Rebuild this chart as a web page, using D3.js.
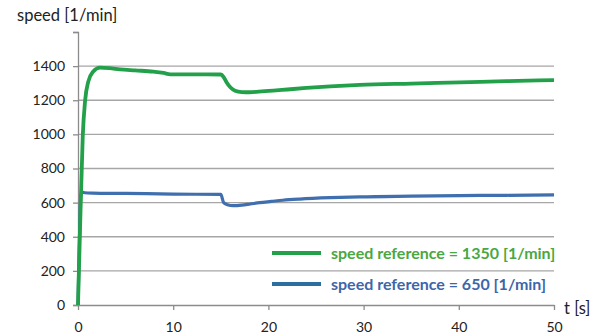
<!DOCTYPE html>
<html>
<head>
<meta charset="utf-8">
<script src="https://cdn.jsdelivr.net/npm/d3@7"></script>
<style>
  html, body { margin: 0; padding: 0; background: #fff; }
  svg { display: block; }
  text { font-family: Lato, "Open Sans", sans-serif; }
</style>
</head>
<body>
<svg id="chart" width="607" height="336"></svg>
<script>
// Time axis [s]
const timeTicks = [0, 10, 20, 30, 40, 50];
// Speed axis [1/min]
const speedTicks = [0, 200, 400, 600, 800, 1000, 1200, 1400];
const speedMax = 1600;

// Response to reference 1350 [1/min]
const t1350 = [0, 0.25, 0.5, 0.75, 1.08, 1.6, 2.3, 3.3, 4.4, 6.0, 7.9, 9.0, 9.7, 11.4, 13.5, 15.0, 15.3, 15.6, 16.0, 16.5, 17.2, 18.0, 19.0, 20.5, 22.0, 24.0, 26.5, 29.6, 35.0, 40.1, 45.0, 50.0];
const v1350 = [0, 520, 990, 1200, 1309, 1368, 1391, 1388, 1381, 1375, 1368, 1360, 1352, 1352, 1352, 1351, 1336, 1306, 1276, 1256, 1248, 1247, 1250, 1256, 1263, 1272, 1281, 1290, 1298, 1305, 1312, 1318];

// Response to reference 650 [1/min]
const t650 = [0, 0.1, 0.2, 0.3, 0.45, 0.7, 1.5, 5.0, 10.0, 15.0, 15.3, 15.7, 16.3, 17.2, 18.1, 19.1, 20.3, 21.5, 23.3, 26.5, 29.6, 35.0, 40.1, 45.0, 50.0];
const v650 = [0, 260, 500, 640, 662, 658, 656, 654, 650, 648, 600, 588, 582, 585, 592, 600, 607, 614, 621, 629, 634, 638, 641, 643, 645];

const seriesNames = ["speed reference = 1350 [1/min]", "speed reference = 650 [1/min]"];
const seriesColors = ["#23a04a", "#3f6fae"];
const legendLineColors = ["#23a04a", "#2a6fa0"];
const legendTextColors = ["#4aa742", "#3d66aa"];

const svg = d3.select("#chart");
const x = d3.scaleLinear().domain([0, 50]).range([78, 554]);
const y = d3.scaleLinear().domain([0, speedMax]).range([305, 32]);

// horizontal gridlines
svg.append("g")
  .selectAll("line")
  .data(speedTicks.filter(d => d > 0))
  .join("line")
  .attr("x1", x(0)).attr("x2", x(50))
  .attr("y1", d => y(d)).attr("y2", d => y(d))
  .attr("stroke", "#a6a6a6").attr("stroke-width", 1.3);

// y axis
const yAxis = svg.append("g")
  .attr("transform", `translate(${x(0)},0)`)
  .call(d3.axisLeft(y).tickValues(speedTicks.concat([speedMax])).tickSize(5).tickPadding(8)
    .tickFormat(d => d === speedMax ? "" : d));
yAxis.select(".domain").attr("stroke", "#8c8c8c").attr("stroke-width", 1.3);
yAxis.selectAll(".tick line").attr("stroke", "#8c8c8c").attr("stroke-width", 1.3);
yAxis.selectAll(".tick text").attr("font-size", 14).attr("fill", "#222")
  .style("font-family", "Lato, 'Open Sans', sans-serif");

// x axis
const xAxis = svg.append("g")
  .attr("transform", `translate(0,${y(0)})`)
  .call(d3.axisBottom(x).tickValues(timeTicks).tickSize(5).tickPadding(12).tickSizeOuter(0));
xAxis.select(".domain").attr("stroke", "#8c8c8c").attr("stroke-width", 1.3);
xAxis.selectAll(".tick line").attr("stroke", "#8c8c8c").attr("stroke-width", 1.3);
xAxis.selectAll(".tick text").attr("font-size", 14).attr("fill", "#222")
  .style("font-family", "Lato, 'Open Sans', sans-serif");

// axis titles
svg.append("text").attr("x", 17).attr("y", 21).attr("font-size", 16.5).attr("fill", "#222")
  .text("speed [1/min]");
svg.append("text").attr("x", 564).attr("y", 314).attr("font-size", 16.5).attr("fill", "#222")
  .text("t [s]");

// response curves
const line = d3.line().x(d => x(d[0])).y(d => y(d[1])).curve(d3.curveMonotoneX);
const series = [d3.zip(t1350, v1350), d3.zip(t650, v650)];
svg.append("path").datum(series[1])
  .attr("d", line).attr("fill", "none")
  .attr("stroke", seriesColors[1]).attr("stroke-width", 3.2).attr("stroke-linejoin", "round");
svg.append("path").datum(series[0])
  .attr("d", line).attr("fill", "none")
  .attr("stroke", seriesColors[0]).attr("stroke-width", 3.8).attr("stroke-linejoin", "round");

// legend
const legendY = [253, 284];
seriesNames.forEach((name, i) => {
  svg.append("line")
    .attr("x1", 272).attr("x2", 321)
    .attr("y1", legendY[i]).attr("y2", legendY[i])
    .attr("stroke", legendLineColors[i]).attr("stroke-width", 4);
  svg.append("text")
    .attr("x", 331).attr("y", legendY[i] + 6)
    .attr("font-size", 16).attr("font-weight", "bold")
    .attr("fill", legendTextColors[i])
    .text(name);
});
</script>
</body>
</html>
